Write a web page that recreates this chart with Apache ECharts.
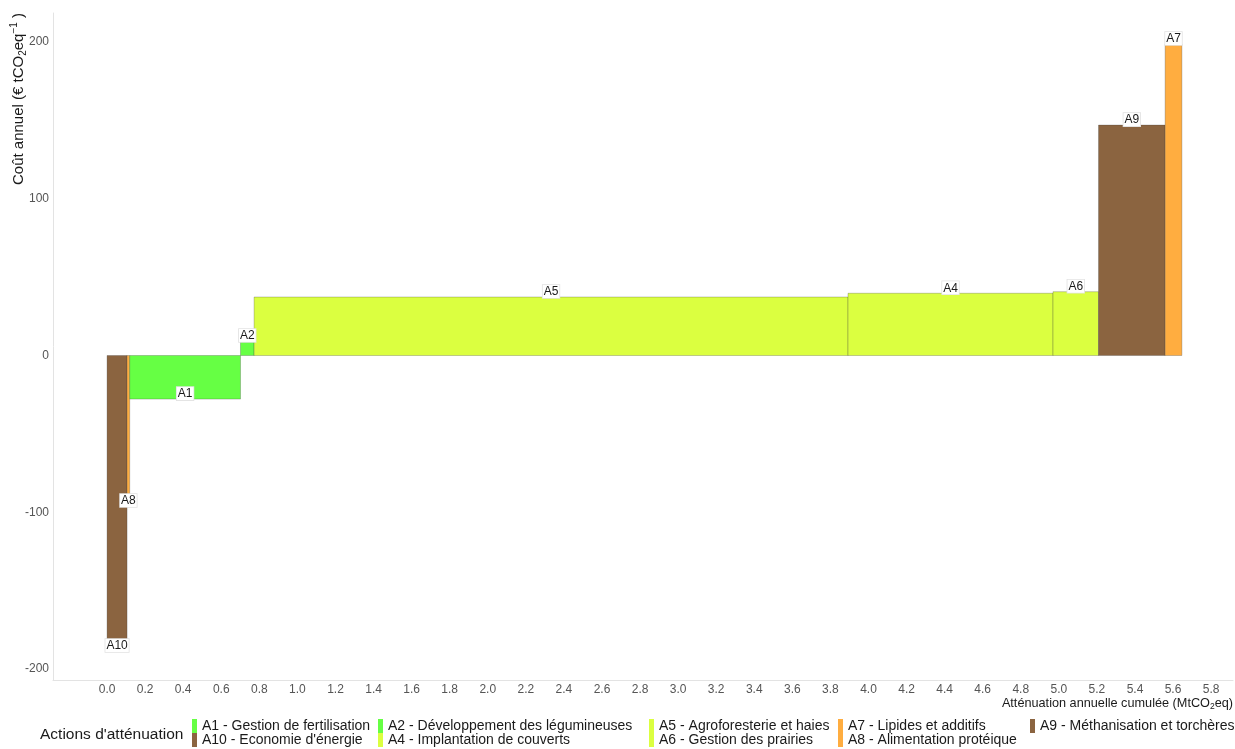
<!DOCTYPE html>
<html>
<head>
<meta charset="utf-8">
<title>Courbe de coût d'atténuation</title>
<script src="https://cdn.jsdelivr.net/npm/echarts@6/dist/echarts.min.js"></script>
<style>
  html, body { margin: 0; padding: 0; background: #fff; }
  #main { width: 1235px; height: 749px; }
</style>
</head>
<body>
<div id="main"></div>
<script>
  // actions, dans l'ordre de la courbe (coût croissant)
  var codes = ['A10', 'A8', 'A1', 'A2', 'A5', 'A4', 'A6', 'A9', 'A7']
  var actionNames = [
    "A10 - Economie d'énergie",
    'A8 - Alimentation protéique',
    'A1 - Gestion de fertilisation',
    'A2 - Développement des légumineuses',
    'A5 - Agroforesterie et haies',
    'A4 - Implantation de couverts',
    'A6 - Gestion des prairies',
    'A9 - Méthanisation et torchères',
    'A7 - Lipides et additifs'
  ]
  // atténuation annuelle de chaque action (MtCO2eq) = largeur des barres
  var attenuation = [0.105, 0.014, 0.582, 0.0715, 3.12, 1.077, 0.239, 0.350, 0.088]
  // coût annuel (€ / tCO2eq) = hauteur des barres
  var cout = [-181.5, -89, -27.8, 9.3, 37.3, 39.7, 40.7, 147, 198.7]

  var xTicks = [0.0, 0.2, 0.4, 0.6, 0.8, 1.0, 1.2, 1.4, 1.6, 1.8, 2.0, 2.2, 2.4, 2.6, 2.8,
    3.0, 3.2, 3.4, 3.6, 3.8, 4.0, 4.2, 4.4, 4.6, 4.8, 5.0, 5.2, 5.4, 5.6, 5.8]
  var yTicks = [-200, -100, 0, 100, 200]

  // ordre de la légende (colonnes de 2)
  var legendCols = [
    ['A1 - Gestion de fertilisation', "A10 - Economie d'énergie"],
    ['A2 - Développement des légumineuses', 'A4 - Implantation de couverts'],
    ['A5 - Agroforesterie et haies', 'A6 - Gestion des prairies'],
    ['A7 - Lipides et additifs', 'A8 - Alimentation protéique'],
    ['A9 - Méthanisation et torchères']
  ]

  // couleurs par famille d'action
  var colors = {
    A1: '#66ff44', A2: '#66ff44',
    A4: '#dbff40', A5: '#dbff40', A6: '#dbff40',
    A7: '#ffad40', A8: '#ffad40',
    A9: '#8b6440', A10: '#8b6440'
  }
  // position de l'étiquette par rapport à l'extrémité de la barre
  var labelSide = {A10: 'below', A8: 'below', A1: 'inside'}
  var legendLeft = [192, 378, 649, 838, 1030]
  var font = 'Liberation Sans, Arial, sans-serif'

  var chart = echarts.init(document.getElementById('main'))

  var series = []
  var start = 0
  for (var i = 0; i < codes.length; i++) {
    var end = start + attenuation[i]
    series.push({
      type: 'custom',
      name: actionNames[i],
      itemStyle: {color: colors[codes[i]]},
      data: [[start, end, cout[i]]],
      clip: false,
      z: 2,
      renderItem: function (params, api) {
        var p0 = api.coord([api.value(0), 0])
        var p1 = api.coord([api.value(1), api.value(2)])
        var code = codes[params.seriesIndex]
        var val = api.value(2)
        var side = labelSide[code] || (val >= 0 ? 'above' : 'below')
        var ty, va
        if (side === 'above') { ty = p1[1] + 1; va = 'bottom' }
        else if (side === 'below') { ty = p1[1] - 1; va = 'top' }
        else { ty = p1[1] + 1; va = 'bottom' }
        return {
          type: 'group',
          children: [{
            type: 'rect',
            shape: {
              x: p0[0], y: Math.min(p0[1], p1[1]),
              width: p1[0] - p0[0], height: Math.abs(p1[1] - p0[1])
            },
            style: {fill: colors[code], stroke: 'rgba(60,60,60,0.35)', lineWidth: 0.8}
          }, {
            type: 'text',
            z2: 10,
            x: (p0[0] + p1[0]) / 2,
            y: ty,
            style: {
              text: code,
              align: 'center',
              verticalAlign: va,
              fontFamily: font,
              fontSize: 12,
              fill: '#1a1a1a',
              backgroundColor: '#fff',
              borderColor: '#e2e2e2',
              borderWidth: 0.8,
              padding: [1, 1, 0, 1]
            }
          }]
        }
      }
    })
    start = end
  }

  var legends = legendCols.map(function (col, k) {
    return {
      data: col,
      orient: 'vertical',
      left: legendLeft[k],
      top: 719,
      padding: 0,
      itemGap: 0,
      itemWidth: 5,
      itemHeight: 14,
      icon: 'rect',
      selectedMode: false,
      textStyle: {fontFamily: font, fontSize: 14, lineHeight: 14, color: '#1a1a1a'}
    }
  })

  var option = {
    animation: false,
    backgroundColor: '#fff',
    grid: {left: 53, right: 2, top: 13, bottom: 69},
    xAxis: {
      type: 'value',
      min: -0.284,
      max: 5.915,
      splitLine: {show: false},
      axisLine: {show: true, onZero: false, lineStyle: {color: '#e3e3e3', width: 1}},
      axisTick: {show: false},
      axisLabel: {
        customValues: xTicks,
        formatter: function (v) { return v.toFixed(1) },
        color: '#555',
        fontSize: 12,
        fontFamily: font,
        margin: 4
      }
    },
    yAxis: {
      type: 'value',
      min: -207,
      max: 218.5,
      splitLine: {show: false},
      axisLine: {show: true, onZero: false, lineStyle: {color: '#e3e3e3', width: 1}},
      axisTick: {show: false},
      axisLabel: {
        customValues: yTicks,
        color: '#555',
        fontSize: 12,
        fontFamily: font,
        margin: 4
      }
    },
    legend: legends,
    graphic: [{
      type: 'text',
      x: 19,
      y: 13,
      rotation: Math.PI / 2,
      style: {
        text: '{a|Coût annuel (€ tCO}{s|2}{a|eq}{p|−1}{a| )}',
        align: 'right',
        verticalAlign: 'middle',
        rich: {
          a: {fontSize: 15, fontFamily: font, fill: '#1a1a1a', lineHeight: 19, verticalAlign: 'middle'},
          s: {fontSize: 10, fontFamily: font, fill: '#1a1a1a', lineHeight: 19, verticalAlign: 'bottom'},
          p: {fontSize: 10, fontFamily: font, fill: '#1a1a1a', lineHeight: 19, verticalAlign: 'top'}
        }
      }
    }, {
      type: 'text',
      x: 1233,
      y: 703,
      style: {
        text: '{a|Atténuation annuelle cumulée (MtCO}{s|2}{a|eq)}',
        align: 'right',
        verticalAlign: 'middle',
        rich: {
          a: {fontSize: 12.7, fontFamily: font, fill: '#1a1a1a', lineHeight: 17, verticalAlign: 'middle'},
          s: {fontSize: 8.5, fontFamily: font, fill: '#1a1a1a', lineHeight: 17, verticalAlign: 'bottom'}
        }
      }
    }, {
      type: 'text',
      x: 40,
      y: 735,
      style: {
        text: "Actions d'atténuation",
        align: 'left',
        verticalAlign: 'middle',
        fontSize: 15.5,
        fontFamily: font,
        fill: '#1a1a1a'
      }
    }],
    series: series
  }

  chart.setOption(option)
</script>
</body>
</html>
